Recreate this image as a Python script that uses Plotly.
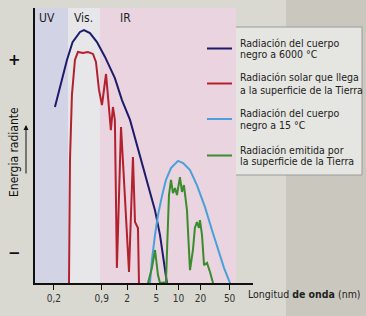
import math
import plotly.graph_objects as go

# ---- data (wavelength in µm, relative radiant energy 0-100) ----
bb6000_x = [0.207, 0.243, 0.302, 0.360, 0.455, 0.515, 0.622, 0.775, 0.998, 1.36, 1.70, 2.19, 2.81, 3.85, 4.79, 5.61, 6.17, 6.98]
bb6000_y = [64.0, 71.3, 81.1, 87.6, 91.3, 92.0, 90.9, 87.6, 82.2, 74.5, 66.5, 59.3, 49.1, 36.4, 26.5, 17.5, 9.5, 0.0]

solar_x = [0.322, 0.332, 0.353, 0.388, 0.426, 0.499, 0.584, 0.684, 0.751, 0.826, 0.907, 1.03, 1.10, 1.20, 1.28, 1.36, 1.45, 1.65, 1.75, 2.12, 2.40, 2.56, 2.81, 2.90]
solar_y = [0.0, 44.7, 68.4, 81.1, 84.0, 83.6, 84.0, 83.3, 80.4, 70.2, 64.7, 76.0, 67.3, 55.6, 64.0, 59.3, 5.5, 56.7, 44.7, 4.0, 45.8, 22.2, 20.0, 0.0]

bb15_x = [4.10, 4.36, 4.80, 5.27, 5.97, 6.77, 7.93, 9.88, 11.6, 14.4, 17.9, 23.1, 28.7, 34.7, 41.9, 50.6]
bb15_y = [0.0, 8.4, 17.5, 24.7, 31.6, 37.5, 41.8, 44.4, 43.6, 41.1, 35.6, 27.6, 19.3, 12.0, 5.5, 0.0]

earth_x = [3.85, 4.36, 4.80, 5.27, 5.61, 6.77, 7.44, 7.93, 8.44, 8.99, 9.57, 10.5, 11.2, 11.9, 13.1, 14.4, 15.8, 16.8, 17.9, 19.1, 19.7, 21.0, 22.4, 24.6, 27.0, 29.7]
earth_y = [0.0, 5.5, 12.0, 2.9, 0.0, 0.3, 32.0, 37.5, 32.7, 34.5, 32.0, 38.5, 33.1, 35.6, 26.5, 4.7, 12.0, 20.0, 22.2, 20.0, 22.9, 17.5, 6.5, 7.3, 4.0, 0.0]

tick_vals = [0.2, 0.9, 2, 5, 10, 20, 50]
tick_text = ["0,2", "0,9", "2", "5", "10", "20", "50"]

band_edges = [0.11, 0.312, 0.852, 61.0]
band_names = ["UV", "Vis.", "IR"]
band_label_x = [0.161, 0.515, 1.87]
band_colors = ["#d3d3e6", "#e7e7ea", "#e9d4e0"]

series_names = [
    ["Radiación del cuerpo", "negro a 6000 °C"],
    ["Radiación solar que llega", "a la superficie de la Tierra"],
    ["Radiación del cuerpo", "negro a 15 °C"],
    ["Radiación emitida por", "la superficie de la Tierra"],
]
series_colors = ["#1e1b6a", "#b3202e", "#4aa0d8", "#3a8c2c"]

FONT = "Liberation Sans Narrow, DejaVu Sans Condensed, Arial Narrow, sans-serif"

# pixel helpers for the layout (plot area: x 35..253, y 8..283)
def px_x(p):
    return (p - 35) / 218

def px_y(p):
    return (283 - p) / 275

fig = go.Figure()
for i, (xs, ys) in enumerate([(bb6000_x, bb6000_y), (solar_x, solar_y), (bb15_x, bb15_y), (earth_x, earth_y)]):
    fig.add_trace(go.Scatter(
        x=xs, y=ys, mode="lines", name=" ".join(series_names[i]),
        line=dict(color=series_colors[i], width=2), cliponaxis=False,
    ))

shapes = []
shapes.append(dict(type="rect", xref="paper", yref="paper", x0=px_x(286), x1=px_x(380), y0=px_y(330), y1=px_y(-20),
                   fillcolor="#cac8be", line=dict(width=0), layer="below"))
for i in range(3):
    shapes.append(dict(type="rect", xref="x", yref="y", x0=band_edges[i], x1=band_edges[i + 1], y0=0, y1=100,
                       fillcolor=band_colors[i], line=dict(width=0), layer="below"))
# legend box
shapes.append(dict(type="rect", xref="paper", yref="paper",
                   x0=px_x(213), x1=px_x(362), y0=px_y(175), y1=px_y(27),
                   fillcolor="#e5e5e1", line=dict(color="#9a9a9a", width=1), layer="below"))

annotations = []
legend_line_y = [48.5, 83.5, 119, 155.5]
for i in range(4):
    yl = legend_line_y[i]
    shapes.append(dict(type="line", xref="paper", yref="paper", x0=px_x(207), x1=px_x(232),
                       y0=px_y(yl), y1=px_y(yl), line=dict(color=series_colors[i], width=2)))
    for j, txt in enumerate(series_names[i]):
        annotations.append(dict(x=px_x(238), y=px_y(yl - 6 + 12 * j), xref="paper", yref="paper",
                                xanchor="left", yanchor="middle", text=txt, showarrow=False,
                                font=dict(family=FONT, size=10.5, color="#222")))

for name, lx in zip(band_names, band_label_x):
    annotations.append(dict(x=math.log10(lx), y=96.5, xref="x", yref="y", text=name, showarrow=False,
                            xanchor="center", yanchor="middle",
                            font=dict(family=FONT, size=12, color="#222")))
annotations.append(dict(x=px_x(14), y=px_y(60), xref="paper", yref="paper", text="<b>+</b>",
                        xanchor="center", yanchor="middle",
                        showarrow=False, font=dict(family="DejaVu Sans", size=15, color="#111")))
annotations.append(dict(x=px_x(14), y=px_y(253), xref="paper", yref="paper", text="<b>−</b>",
                        xanchor="center", yanchor="middle",
                        showarrow=False, font=dict(family="DejaVu Sans", size=15, color="#111")))
annotations.append(dict(x=px_x(14), y=px_y(152), xref="paper", yref="paper",
                        xanchor="center", yanchor="middle",
                        text="Energia radiante", textangle=-90, showarrow=False,
                        font=dict(family=FONT, size=12, color="#111")))
annotations.append(dict(x=px_x(26), y=px_y(125), xref="paper", yref="paper", text="",
                        showarrow=True, ax=0, ay=50, arrowhead=2, arrowsize=1, arrowwidth=1, arrowcolor="#111"))
annotations.append(dict(x=px_x(246), y=px_y(294), xref="paper", yref="paper", xanchor="left", yanchor="middle",
                        text="Longitud <b>de onda</b> (nm)", showarrow=False,
                        font=dict(family=FONT, size=10.5, color="#222")))

fig.update_layout(
    width=366, height=316,
    margin=dict(l=35, r=113, t=8, b=33),
    paper_bgcolor="#d9d9d1", plot_bgcolor="#d9d9d1",
    shapes=shapes, annotations=annotations,
    showlegend=False,
    xaxis=dict(type="log", range=[-0.956, 2.018], showgrid=False, zeroline=False,
               showline=True, linecolor="#111", linewidth=1.5,
               ticks="outside", ticklen=5, tickcolor="#111", tickwidth=1,
               tickvals=tick_vals, ticktext=tick_text,
               tickfont=dict(family=FONT, size=10, color="#333")),
    yaxis=dict(range=[0, 100], showgrid=False, zeroline=False, showticklabels=False,
               showline=True, linecolor="#111", linewidth=1.5, ticks=""),
    font=dict(family=FONT),
)

fig.write_html("out.html")
